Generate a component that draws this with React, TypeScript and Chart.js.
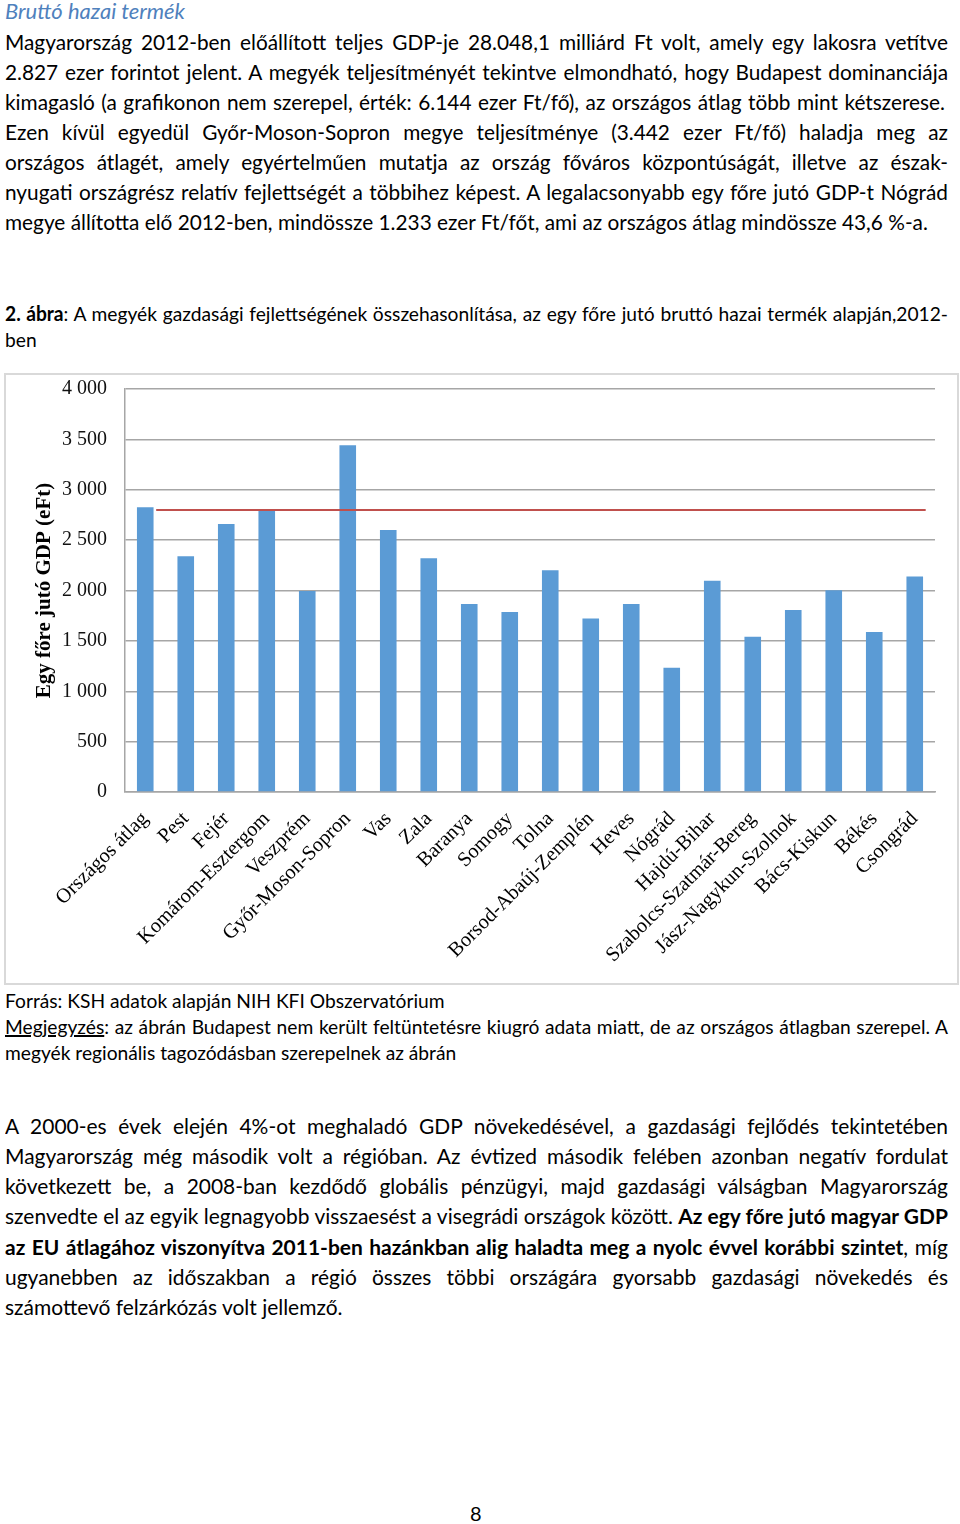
import React, { useEffect, useRef } from "react";
import { Chart, registerables } from "chart.js";

Chart.register(...registerables);

const categories = [
  "Országos átlag", "Pest", "Fejér", "Komárom-Esztergom", "Veszprém",
  "Győr-Moson-Sopron", "Vas", "Zala", "Baranya", "Somogy", "Tolna",
  "Borsod-Abaúj-Zemplén", "Heves", "Nógrád", "Hajdú-Bihar",
  "Szabolcs-Szatmár-Bereg", "Jász-Nagykun-Szolnok", "Bács-Kiskun", "Békés", "Csongrád",
];
const gdpPerCapita = [
  2827, 2341, 2659, 2800, 1994, 3442, 2600, 2321, 1865, 1786, 2202,
  1723, 1865, 1233, 2096, 1541, 1806, 2003, 1588, 2140,
];
const averageLineX = [0.27, 19.27];
const averageLineY = [2800, 2800];
const yTicksMax = 4000;
const yTicksStep = 500;
const yAxisTitle = "Egy főre jutó GDP (eFt)";

const SERIF = "'Liberation Serif', 'Times New Roman', serif";
const SANS = "Lato, 'Noto Sans', sans-serif";

function fmt(v: number) {
  return String(v).replace(/\B(?=(\d{3})+(?!\d))/g, " ");
}

function GdpChart() {
  const ref = useRef<HTMLCanvasElement | null>(null);
  useEffect(() => {
    if (!ref.current) return;
    const chart = new Chart(ref.current, {
      type: "bar",
      data: {
        datasets: [
          {
            type: "bar",
            data: gdpPerCapita.map((v, i) => ({ x: i, y: v })),
            backgroundColor: "#5b9bd5",
            barPercentage: 0.41,
            categoryPercentage: 1,
            grouped: false,
            order: 2,
          } as any,
          {
            type: "line",
            data: averageLineX.map((x, i) => ({ x, y: averageLineY[i] })),
            borderColor: "#c0504d",
            borderWidth: 2,
            pointRadius: 0,
            fill: false,
            order: 1,
          } as any,
        ],
      },
      options: {
        animation: false,
        responsive: true,
        maintainAspectRatio: false,
        layout: { padding: { left: 0, right: 22, top: 14, bottom: 0 } },
        plugins: { legend: { display: false }, tooltip: { enabled: false } },
        scales: {
          x: {
            type: "linear",
            offset: false,
            min: -0.5,
            max: categories.length - 0.5,
            grid: { display: false, drawTicks: false },
            border: { display: true, color: "#a6a6a6", width: 1.5 },
            afterBuildTicks: (s: any) => {
              s.ticks = categories.map((_, i) => ({ value: i }));
            },
            ticks: {
              autoSkip: false,
              maxRotation: 45,
              minRotation: 45,
              padding: 15,
              color: "#000",
              font: { family: SERIF, size: 20.5 },
              callback: (v: any) => categories[Math.round(Number(v))] ?? "",
            },
            afterFit: (s: any) => { s.height = 191; },
          },
          y: {
            min: 0,
            max: yTicksMax,
            grid: { color: "#a6a6a6", lineWidth: 1.5, drawTicks: true, tickLength: 18, tickColor: "rgba(0,0,0,0)" },
            border: { display: true, color: "#a6a6a6", width: 1.5 },
            ticks: {
              stepSize: yTicksStep,
              padding: 0,
              color: "#111",
              font: { family: SERIF, size: 20 },
              callback: (v: any) => fmt(Number(v)),
            },
            title: {
              display: true,
              text: yAxisTitle,
              color: "#000",
              font: { family: SERIF, size: 21, weight: "bold" },
              padding: { top: 26, bottom: 0 },
            },
            afterFit: (s: any) => { s.width = 119; },
          },
        },
      } as any,
    });
    return () => chart.destroy();
  }, []);
  return (
    <div style={{ position: "absolute", left: 4, top: 373, width: 955, height: 612, border: "2px solid #d9d9d9", boxSizing: "border-box", background: "#fff" }}>
      <div style={{ position: "relative", width: 951, height: 608 }}>
        <canvas ref={ref} />
      </div>
    </div>
  );
}

type LineProps = {
  y: number;
  children: React.ReactNode;
  justify?: boolean;
  size?: number;
  scale?: number;
  width?: number;
  left?: number;
  style?: React.CSSProperties;
};

function Line({ y, children, justify, size = 19, scale = 1, width = 943, left = 5, style }: LineProps) {
  const lh = 30;
  return (
    <div
      style={{
        position: "absolute",
        left,
        top: y - lh / 2,
        width: width / scale,
        height: lh,
        lineHeight: lh + "px",
        fontSize: size,
        fontFamily: SANS,
        color: "#000",
        whiteSpace: "nowrap",
        textAlign: justify ? "justify" : "left",
        textAlignLast: justify ? "justify" : "left",
        transform: `scaleX(${scale})`,
        transformOrigin: "0 0",
        ...style,
      } as React.CSSProperties}
    >
      {children}
    </div>
  );
}

export default function App() {
  const P1 = 20.8;
  const C = 20;
  const CS = 0.96;
  const B = 21.5;
  const BS = 0.975;
  return (
    <div style={{ position: "absolute", left: 0, top: 0, width: 960, height: 1524, background: "#fff", overflow: "hidden" }}>
      <Line y={11} size={22} style={{ fontStyle: "italic", color: "#4f81bd" }}>Bruttó hazai termék</Line>
      <Line y={42} size={P1} justify>Magyarország 2012-ben előállított teljes GDP-je 28.048,1 milliárd Ft volt, amely egy lakosra vetítve</Line>
      <Line y={72} size={P1} justify>2.827 ezer forintot jelent. A megyék teljesítményét tekintve elmondható, hogy Budapest dominanciája</Line>
      <Line y={102} size={P1} justify width={940}>kimagasló (a grafikonon nem szerepel, érték: 6.144 ezer Ft/fő), az országos átlag több mint kétszerese.</Line>
      <Line y={132} size={P1} justify>Ezen kívül egyedül Győr-Moson-Sopron megye teljesítménye (3.442 ezer Ft/fő) haladja meg az</Line>
      <Line y={162} size={P1} justify>országos átlagét, amely egyértelműen mutatja az ország főváros központúságát, illetve az észak-</Line>
      <Line y={192} size={P1} justify>nyugati országrész relatív fejlettségét a többihez képest. A legalacsonyabb egy főre jutó GDP-t Nógrád</Line>
      <Line y={222} size={P1}>megye állította elő 2012-ben, mindössze 1.233 ezer Ft/főt, ami az országos átlag mindössze 43,6 %-a.</Line>

      <Line y={313} size={C} scale={CS} justify><b>2. ábra</b>: A megyék gazdasági fejlettségének összehasonlítása, az egy főre jutó bruttó hazai termék alapján,2012-</Line>
      <Line y={339} size={C} scale={CS}>ben</Line>

      <GdpChart />

      <Line y={1000} size={C} scale={CS}>Forrás: KSH adatok alapján NIH KFI Obszervatórium</Line>
      <Line y={1026} size={C} scale={CS} justify><span style={{ textDecoration: "underline" }}>Megjegyzés</span>: az ábrán Budapest nem került feltüntetésre kiugró adata miatt, de az országos átlagban szerepel. A</Line>
      <Line y={1052} size={C} scale={CS}>megyék regionális tagozódásban szerepelnek az ábrán</Line>

      <Line y={1126} size={B} scale={BS} justify>A 2000-es évek elején 4%-ot meghaladó GDP növekedésével, a gazdasági fejlődés tekintetében</Line>
      <Line y={1156} size={B} scale={BS} justify>Magyarország még második volt a régióban. Az évtized második felében azonban negatív fordulat</Line>
      <Line y={1186} size={B} scale={BS} justify>következett be, a 2008-ban kezdődő globális pénzügyi, majd gazdasági válságban Magyarország</Line>
      <Line y={1216} size={B} scale={BS} justify>szenvedte el az egyik legnagyobb visszaesést a visegrádi országok között. <b>Az egy főre jutó magyar GDP</b></Line>
      <Line y={1247} size={B} scale={BS} justify><b>az EU átlagához viszonyítva 2011-ben hazánkban alig haladta meg a nyolc évvel korábbi szintet</b>, míg</Line>
      <Line y={1277} size={B} scale={BS} justify>ugyanebben az időszakban a régió összes többi országára gyorsabb gazdasági növekedés és</Line>
      <Line y={1307} size={B} scale={BS}>számottevő felzárkózás volt jellemző.</Line>

      <Line y={1513} size={20} left={470} width={20}>8</Line>
    </div>
  );
}
